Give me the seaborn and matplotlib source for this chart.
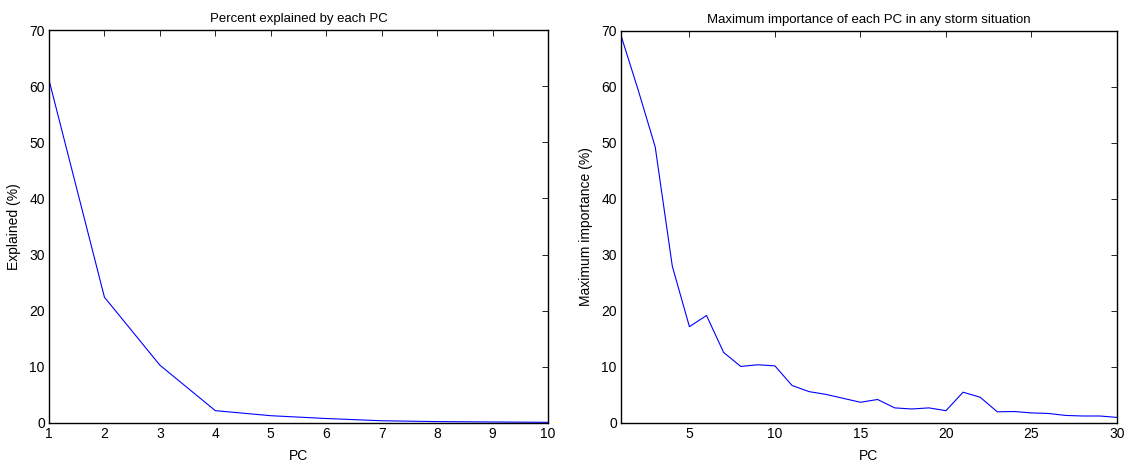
import numpy as np
import pandas as pd
import matplotlib
matplotlib.use("Agg")
import matplotlib.pyplot as plt
import seaborn as sns

# Data
pc_left = list(range(1, 11))
explained = [61.1, 22.4, 10.3, 2.2, 1.3, 0.8, 0.4, 0.25, 0.18, 0.12]

pc_right = list(range(1, 31))
max_importance = [69.2, 59.5, 49.3, 28.0, 17.2, 19.2, 12.6, 10.1, 10.4, 10.2,
                  6.7, 5.6, 5.1, 4.4, 3.7, 4.2, 2.7, 2.5, 2.7, 2.2,
                  5.5, 4.6, 2.0, 2.05, 1.8, 1.7, 1.35, 1.25, 1.25, 1.0]

left_xticks = list(range(1, 11))
right_xticks = [5, 10, 15, 20, 25, 30]
yticks = [0, 10, 20, 30, 40, 50, 60, 70]

sns.set_style("white")
plt.rcParams['font.family'] = ['Liberation Sans', 'DejaVu Sans']
plt.rcParams['xtick.direction'] = 'in'
plt.rcParams['ytick.direction'] = 'in'
plt.rcParams['text.color'] = 'black'
plt.rcParams['axes.labelcolor'] = 'black'

W, H = 1127, 463
fig = plt.figure(figsize=(W / 100, H / 100), dpi=100)

def frac(l, t, r, b):
    return [l / W, (H - b) / H, (r - l) / W, (b - t) / H]

ax1 = fig.add_axes(frac(49, 30, 548, 423))
ax2 = fig.add_axes(frac(621, 31, 1117, 423))

df1 = pd.DataFrame({"PC": pc_left, "Explained": explained})
df2 = pd.DataFrame({"PC": pc_right, "Importance": max_importance})

sns.lineplot(data=df1, x="PC", y="Explained", ax=ax1, color=(0, 0, 1), linewidth=0.8)
sns.lineplot(data=df2, x="PC", y="Importance", ax=ax2, color=(0, 0, 1), linewidth=0.8)

for ax, xt, xlim in [(ax1, left_xticks, (1, 10)), (ax2, right_xticks, (1, 30))]:
    ax.set_xlim(*xlim)
    ax.set_ylim(0, 70)
    ax.set_xticks(xt)
    ax.set_yticks(yticks)
    ax.tick_params(axis='both', which='both', direction='in', top=True, right=True,
                   length=4, width=0.6, labelsize=10, colors='black', pad=3)
    for s in ax.spines.values():
        s.set_visible(True)
        s.set_color('black')
        s.set_linewidth(1.0)
    ax.set_xlabel("PC", fontsize=10, labelpad=6, color='black')

ax1.set_ylabel("Explained (%)", fontsize=10, labelpad=6, color='black')
ax2.set_ylabel("Maximum importance (%)", fontsize=10, labelpad=6, color='black')
ax1.set_title("Percent explained by each PC", fontsize=9.5, pad=6, color='black')
ax2.set_title("Maximum importance of each PC in any storm situation", fontsize=9.5, pad=6, color='black')

fig.savefig("out.png", dpi=100)
